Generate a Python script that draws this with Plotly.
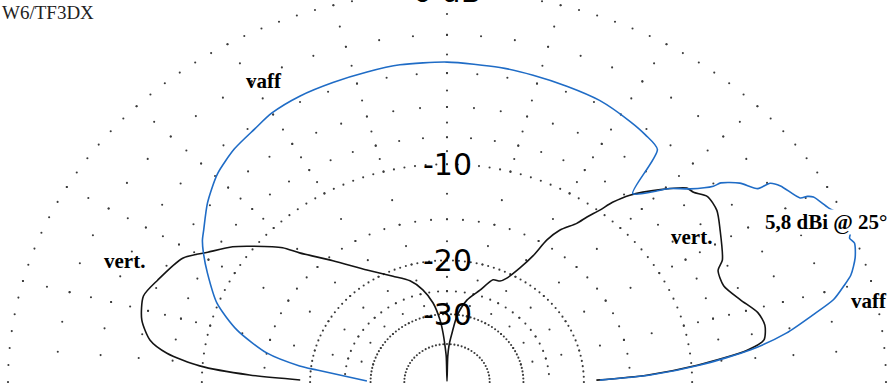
import numpy as np
import plotly.graph_objects as go

# Elevation patterns, 0..180 deg elevation, gain in dBi
vaff_elev = [0.8, 2.2, 4.3, 6.8, 9.2, 11.6, 13.5, 15.3, 16.6, 18.9, 21.0, 21.9, 22.5, 25.0,
             27.2, 29.6, 30.1, 30.4, 33.5, 34.7, 35.0, 37.4, 39.3, 39.6, 41.8, 44.4, 46.1,
             48.8, 51.2, 54.5, 58.0, 64.3, 70.1, 76.0, 81.5, 90.0, 97.5, 102.9, 108.7,
             114.6, 120.1, 124.0, 129.0, 134.4, 139.9, 145.0, 146.9, 149.2, 152.9, 158.9,
             164.4, 169.7, 173.0, 174.1, 179.2]
vaff_gain = [-12.3, -7.4, -3.6, -0.4, 1.6, 3.0, 4.1, 4.7, 5.1, 5.5, 5.7, 5.6, 5.7, 5.8,
             5.4, 5.1, 4.9, 4.6, 4.2, 3.9, 3.3, 2.8, 2.1, 1.7, 0.7, -0.1, -0.9,
             -1.8, 1.2, 1.5, 1.7, 2.0, 2.1, 2.2, 2.3, 2.4, 2.4, 2.3, 2.2,
             2.1, 1.9, 1.6, 1.3, 0.8, 0.0, -0.9, -1.2, -1.7, -2.6, -4.1,
             -6.2, -9.2, -12.8, -15.0, -23.4]

vert_elev = [0.8, 2.2, 4.3, 6.8, 8.5, 11.4, 14.1, 17.5, 21.4, 24.9, 26.5, 32.1, 35.6,
             38.7, 40.9, 42.3, 45.4, 49.0, 50.7, 51.7, 53.0, 54.0, 56.6, 58.0, 58.8,
             60.4, 62.9, 65.0, 68.2, 72.3, 77.8, 82.3, 84.8, 87.0, 88.5, 90.0, 91.5,
             93.0, 94.1, 95.7, 98.9, 103.1, 108.0, 114.4, 122.4, 129.9, 135.4, 137.4,
             141.7, 144.6, 148.6, 152.2, 158.4, 162.3, 167.1, 171.0, 173.4, 175.8,
             177.7, 179.1]
vert_gain = [-12.7, -7.7, -3.8, -0.6, 0.4, 0.6, 0.4, -0.3, -0.9, -0.8, -0.3, 0.5, 1.0,
             1.1, 0.7, 0.6, -0.5, -2.0, -3.1, -4.1, -5.1, -6.0, -7.3, -8.7, -10.9,
             -12.9, -14.9, -15.7, -15.9, -18.2, -20.6, -24.5, -29.7, -34.2, -41.2, -99.0,
             -41.2, -34.2, -29.8, -25.7, -21.4, -18.5, -16.5, -15.0, -12.7, -9.7, -7.1,
             -5.8, -4.1, -3.0, -1.9, -0.8, -0.1, 0.3, 0.0, -0.7, -1.8, -4.0, -7.9,
             -13.0]

peak_gain = 5.8      # dBi, outer (0 dB) ring
peak_elev = 25
ring_labels = [-10, -20, -30]
callsign = "W6/TF3DX"

BLUE = "#1f6cc6"
BLACK = "#141414"
GRID = "#3a3a3a"


def arrl_radius(rel_db):
    """ARRL log scale: radius shrinks by 0.89 for every 2 dB."""
    return 0.89 ** (-np.asarray(rel_db, dtype=float) / 2.0)


def to_xy(elev_deg, rel_db):
    r = arrl_radius(rel_db)
    t = np.radians(np.asarray(elev_deg, dtype=float))
    return r * np.cos(t), r * np.sin(t)


fig = go.Figure()

# ---- dotted grid ----
gx, gy = [], []
# main rings (dB level, angular dot step)
for db, step in [(0, 2.5), (-10, 2.5), (-20, 2.5), (-30, 3.0), (-40, 5.0)]:
    ang = np.arange(0, 180.01, step)
    x, y = to_xy(ang, np.full(ang.shape, db))
    gx += list(x); gy += list(y)
# intermediate rings
for db in [-2, -4, -6, -8, -15, -25]:
    ang = np.arange(5, 176, 5)
    x, y = to_xy(ang, np.full(ang.shape, db))
    gx += list(x); gy += list(y)
# radial spokes every 15 deg
spoke_db = list(np.arange(0, -10.5, -1.0)) + list(np.arange(-12.5, -30.5, -2.5))
for a in range(15, 180, 15):
    x, y = to_xy(np.full(len(spoke_db), a), spoke_db)
    gx += list(x); gy += list(y)

fig.add_trace(go.Scatter(x=gx, y=gy, mode="markers",
                         marker=dict(size=2.1, color=GRID, line=dict(width=0)),
                         hoverinfo="skip", showlegend=False))

# ---- patterns ----
vx, vy = to_xy(vert_elev, np.array(vert_gain) - peak_gain)
fig.add_trace(go.Scatter(x=vx, y=vy, mode="lines", name="vert.",
                         line=dict(color=BLACK, width=1.6, shape="spline", smoothing=0.7),
                         showlegend=False))
hx, hy = to_xy(vaff_elev, np.array(vaff_gain) - peak_gain)
fig.add_trace(go.Scatter(x=hx, y=hy, mode="lines", name="vaff",
                         line=dict(color=BLUE, width=1.6, shape="spline", smoothing=0.7),
                         showlegend=False))

# ---- axes: elliptical stretch comes from the unequal axis scales ----
x_range = [-447 / 439, 445 / 439]
y_range = [-1 / 390, 382 / 390]

ring_font = dict(family="DejaVu Sans", size=30, color="#000")
annotations = []
for db in ring_labels:
    annotations.append(dict(x=0, y=float(arrl_radius(db)), xref="x", yref="y",
                            text=str(db), showarrow=False, xanchor="center", yanchor="middle",
                            font=ring_font))
# 0 dB label sits on the outer ring, above the plotting window
top_frac = (1.0 - y_range[0]) / (y_range[1] - y_range[0])
annotations.append(dict(x=0, y=top_frac, xref="x", yref="paper", text="0 dB", showarrow=False,
                        xanchor="center", yanchor="middle", font=ring_font))

serif_b = dict(family="Liberation Serif, Times New Roman", size=21, color="#000")


def lbl(text, px, py, **kw):
    d = dict(x=px / 892, y=1 - py / 383, xref="paper", yref="paper", text=text,
             showarrow=False, xanchor="center", yanchor="middle", font=serif_b)
    d.update(kw)
    annotations.append(d)


lbl("<b>vaff</b>", 264, 81)
lbl("<b>vert.</b>", 125, 261)
lbl("<b>vert.</b>", 691, 237)
lbl("<b>vaff</b>", 869, 301)
lbl(f"<b>{peak_gain:.1f}".replace(".", ",") + f" dBi @ {peak_elev}°</b>", 826, 222,
    bgcolor="white", borderpad=0)
annotations.append(dict(x=0, y=1.0, xref="paper", yref="paper", text=callsign,
                        showarrow=False, xanchor="left", yanchor="top",
                        font=dict(family="Liberation Serif, Times New Roman", size=19,
                                  color="#222")))

fig.update_layout(
    width=892, height=383,
    margin=dict(l=0, r=0, t=0, b=0),
    paper_bgcolor="white", plot_bgcolor="white",
    xaxis=dict(range=x_range, visible=False, fixedrange=True),
    yaxis=dict(range=y_range, visible=False, fixedrange=True),
    annotations=annotations,
    showlegend=False,
)

fig.write_html("out.html")
